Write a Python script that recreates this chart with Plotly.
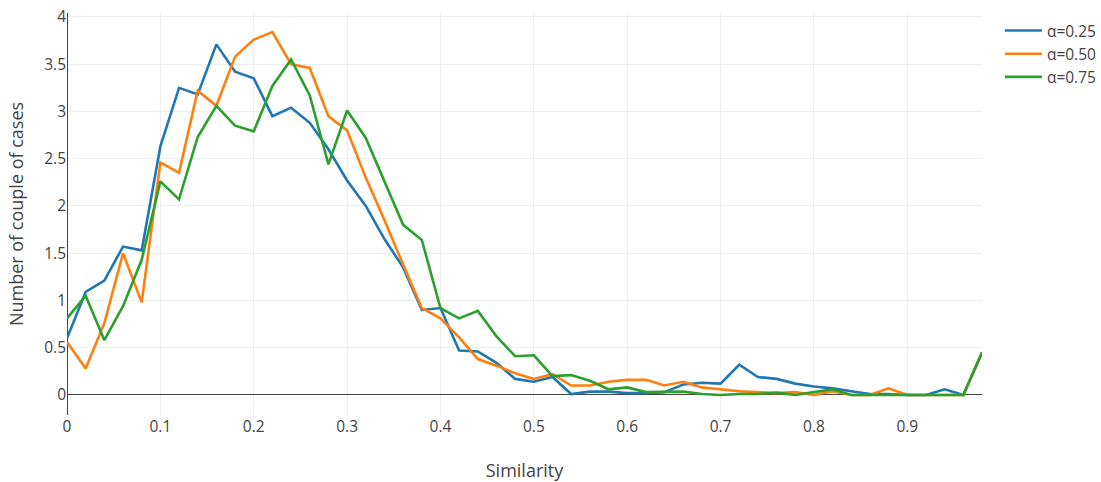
import plotly.graph_objects as go

# Similarity bins (step 0.02)
similarity = [round(i * 0.02, 2) for i in range(50)]

alpha_025 = [0.60, 1.09, 1.21, 1.57, 1.53, 2.63, 3.25, 3.18, 3.71, 3.42,
             3.35, 2.95, 3.04, 2.88, 2.60, 2.27, 2.00, 1.65, 1.35, 0.90,
             0.92, 0.47, 0.46, 0.34, 0.17, 0.14, 0.19, 0.01, 0.035, 0.035,
             0.02, 0.02, 0.03, 0.11, 0.13, 0.12, 0.32, 0.19, 0.17, 0.12,
             0.09, 0.07, 0.04, 0.01, 0.01, 0.0, 0.0, 0.06, 0.0, 0.45]

alpha_050 = [0.56, 0.28, 0.76, 1.50, 0.98, 2.46, 2.35, 3.22, 3.06, 3.58,
             3.76, 3.84, 3.50, 3.46, 2.95, 2.80, 2.30, 1.85, 1.38, 0.92,
             0.81, 0.61, 0.38, 0.31, 0.23, 0.17, 0.22, 0.10, 0.10, 0.14,
             0.16, 0.16, 0.10, 0.14, 0.08, 0.06, 0.04, 0.03, 0.02, 0.03,
             0.0, 0.04, 0.0, 0.0, 0.07, 0.0, 0.0, 0.0, 0.0, 0.45]

alpha_075 = [0.81, 1.05, 0.58, 0.94, 1.43, 2.26, 2.07, 2.73, 3.06, 2.85,
             2.79, 3.27, 3.55, 3.17, 2.44, 3.01, 2.72, 2.26, 1.80, 1.64,
             0.92, 0.81, 0.89, 0.62, 0.41, 0.42, 0.20, 0.21, 0.15, 0.06,
             0.08, 0.03, 0.03, 0.035, 0.01, 0.0, 0.01, 0.01, 0.025, 0.0,
             0.03, 0.06, 0.0, 0.0, 0.0, 0.0, 0.0, 0.0, 0.0, 0.45]

series = [
    ("α=0.25", alpha_025, "#1f77b4"),
    ("α=0.50", alpha_050, "#ff7f0e"),
    ("α=0.75", alpha_075, "#2ca02c"),
]

fig = go.Figure()
for name, values, color in series:
    fig.add_trace(go.Scatter(x=similarity, y=values, mode="lines", name=name,
                             line=dict(color=color, width=2.6)))

axis_common = dict(
    gridcolor="#eeeeee", gridwidth=1.3,
    zeroline=True, zerolinecolor="#444444", zerolinewidth=1.3,
    showline=False, ticks="",
    tickfont=dict(size=15.5, color="#444444"),
    title_font=dict(size=18, color="#444444"),
)

fig.update_layout(
    width=1101, height=482,
    margin=dict(l=67, r=119, t=13, b=67),
    paper_bgcolor="white", plot_bgcolor="white",
    font=dict(family="Open Sans, sans-serif", color="#444444"),
    xaxis=dict(range=[0, 0.98], dtick=0.1,
               title=dict(text="Similarity", standoff=28),
               automargin=False, **axis_common),
    yaxis=dict(range=[-0.212, 4.042], dtick=0.5,
               title=dict(text="Number of couple of cases"),
               automargin=False, **axis_common),
    legend=dict(xref="container", yref="container", x=0.9082, y=0.971,
                xanchor="left", yanchor="top", itemwidth=37,
                font=dict(size=15.5, color="#444444")),
)

fig.write_html("out.html")
